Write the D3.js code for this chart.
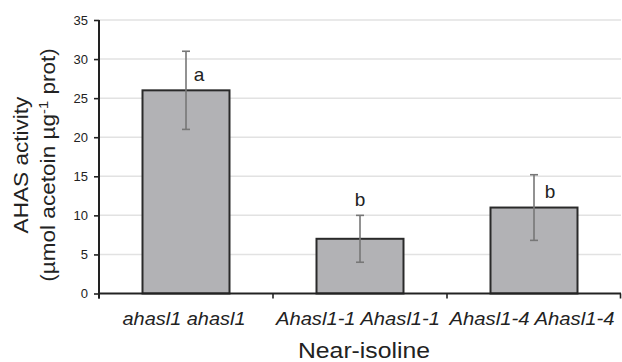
<!DOCTYPE html>
<html>
<head>
<meta charset="utf-8">
<script src="https://cdn.jsdelivr.net/npm/d3@7"></script>
<style>
  html, body { margin: 0; padding: 0; background: #fff; }
  svg { display: block; font-family: "Liberation Sans", Arial, sans-serif; }
</style>
</head>
<body>
<svg id="chart" width="622" height="362"></svg>
<script>
// Mean AHAS activity per near-isoline, with standard errors and significance letters
const categories = ["ahasl1 ahasl1", "Ahasl1-1 Ahasl1-1", "Ahasl1-4 Ahasl1-4"];
const means = [26, 7, 11];
const errors = [5, 3, 4.2];
const letters = ["a", "b", "b"];
const yTicks = [0, 5, 10, 15, 20, 25, 30, 35];

const svg = d3.select("#chart");
const margin = { left: 99, right: 1, top: 20, bottom: 68 };
const W = 622, H = 362;

const x = d3.scaleBand().domain(categories)
  .range([margin.left, W - margin.right]).paddingInner(0.5).paddingOuter(0.25);
const xEdge = d3.scaleBand().domain(categories)
  .range([margin.left, W - margin.right]);
const y = d3.scaleLinear().domain([0, 35]).range([H - margin.bottom - 0.5, margin.top]);

// horizontal gridlines
svg.append("g").selectAll("line").data(yTicks.filter(d => d > 0)).join("line")
  .attr("x1", margin.left).attr("x2", W - margin.right)
  .attr("y1", d => y(d)).attr("y2", d => y(d))
  .attr("stroke", "#e2e2e2").attr("stroke-width", 1.5);

// bars
svg.append("g").selectAll("rect").data(means).join("rect")
  .attr("x", (d, i) => x(categories[i]))
  .attr("width", x.bandwidth())
  .attr("y", d => y(d))
  .attr("height", d => y(0) - y(d))
  .attr("fill", "#b2b2b5").attr("stroke", "#2a2a2a").attr("stroke-width", 2);

// error bars
const eb = svg.append("g").attr("stroke", "#777").attr("stroke-width", 1.6);
means.forEach((m, i) => {
  const cx = x(categories[i]) + x.bandwidth() / 2;
  eb.append("line").attr("x1", cx).attr("x2", cx).attr("y1", y(m - errors[i])).attr("y2", y(m + errors[i]));
  [m - errors[i], m + errors[i]].forEach(v => {
    eb.append("line").attr("x1", cx - 4).attr("x2", cx + 4).attr("y1", y(v)).attr("y2", y(v));
  });
});

// significance letters (placed relative to the top of each error bar)
const letterPos = [
  { dx: 13, v: means[0] + errors[0] - 3.8 },
  { dx: 0, v: means[1] + errors[1] + 1.2 },
  { dx: 16, v: means[2] + errors[2] - 3.0 }
];
svg.append("g").selectAll("text").data(letters).join("text")
  .attr("x", (d, i) => x(categories[i]) + x.bandwidth() / 2 + letterPos[i].dx)
  .attr("y", (d, i) => y(letterPos[i].v))
  .attr("text-anchor", "middle")
  .attr("font-size", 19).attr("fill", "#222")
  .text(d => d);

// y axis
const yAxis = svg.append("g").attr("transform", `translate(${margin.left},0)`)
  .call(d3.axisLeft(y).tickValues(yTicks).tickSize(5).tickPadding(6));
yAxis.select(".domain").attr("stroke", "#222").attr("stroke-width", 2)
  .attr("d", `M0,${y(35)}V${y(0) + 5}`);
yAxis.selectAll(".tick line").attr("stroke", "#222").attr("stroke-width", 1.6);
yAxis.selectAll(".tick text").attr("font-size", 13).attr("fill", "#222")
  .attr("font-family", "Liberation Sans, Arial, sans-serif");

// x axis with ticks at category boundaries
const xg = svg.append("g");
xg.append("line").attr("x1", margin.left).attr("x2", W - margin.right)
  .attr("y1", y(0)).attr("y2", y(0)).attr("stroke", "#222").attr("stroke-width", 2);
const bounds = categories.map(c => xEdge(c)).concat([W - margin.right - 0.5]);
xg.selectAll("line.tk").data(bounds).join("line").attr("class", "tk")
  .attr("x1", d => d).attr("x2", d => d)
  .attr("y1", y(0)).attr("y2", y(0) + 5)
  .attr("stroke", "#222").attr("stroke-width", 1.6);

// category labels (slightly wide-set type)
const catWidths = [123, 164, 165];
xg.selectAll("text.cat").data(categories).join("text").attr("class", "cat")
  .attr("x", d => xEdge(d) + xEdge.bandwidth() / 2 - 2)
  .attr("y", 325)
  .attr("text-anchor", "middle")
  .attr("font-style", "italic").attr("font-size", 18).attr("fill", "#222")
  .attr("textLength", (d, i) => catWidths[i]).attr("lengthAdjust", "spacingAndGlyphs")
  .text(d => d);

// axis titles
svg.append("text").attr("x", 364).attr("y", 358).attr("text-anchor", "middle")
  .attr("font-size", 22).attr("fill", "#222")
  .attr("textLength", 132).attr("lengthAdjust", "spacingAndGlyphs")
  .text("Near-isoline");

svg.append("text").attr("transform", "translate(28,165) rotate(-90) scale(1.13,1)")
  .attr("text-anchor", "middle").attr("font-size", 20).attr("fill", "#222")
  .text("AHAS activity");
const l2 = svg.append("text").attr("transform", "translate(55,165) rotate(-90) scale(1.13,1)")
  .attr("text-anchor", "middle").attr("font-size", 20).attr("fill", "#222");
l2.append("tspan").text("(µmol acetoin µg");
l2.append("tspan").attr("dy", -7).attr("font-size", 13).text("-1");
l2.append("tspan").attr("dy", 7).text(" prot)");
</script>
</body>
</html>
